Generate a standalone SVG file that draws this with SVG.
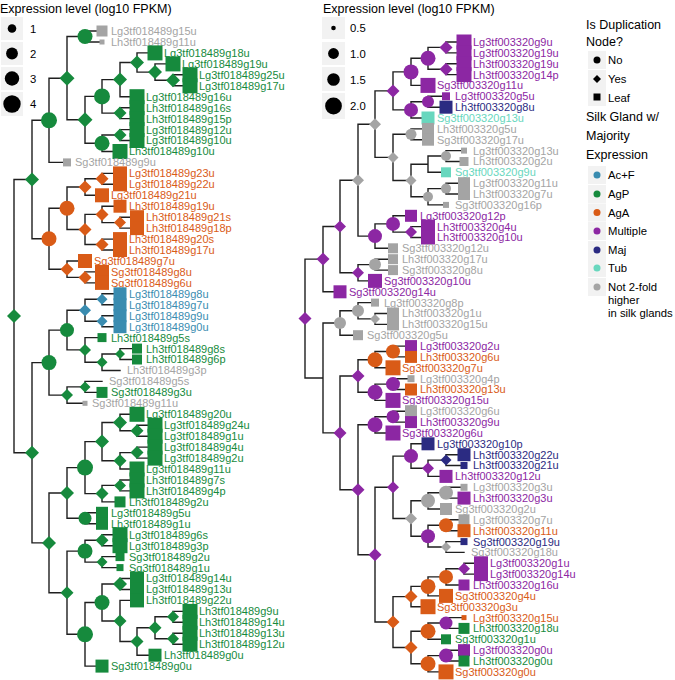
<svg xmlns="http://www.w3.org/2000/svg" xmlns:xlink="http://www.w3.org/1999/xlink" width="675" height="680" viewBox="0 0 675 680">
<style>
.e{fill:none;stroke:#1f1f1f;stroke-width:1.4;stroke-linecap:square}
.t{font-family:"Liberation Sans",Arial,sans-serif;font-size:11px}
.h{font-family:"Liberation Sans",Arial,sans-serif;font-size:12.5px;fill:#000}
.k{font-family:"Liberation Sans",Arial,sans-serif;font-size:11.3px;fill:#000}
.kb{fill:#f2f2f2}
.G{fill:#168a3d}.O{fill:#d95b17}.B{fill:#3a8cb0}.P{fill:#8c27a3}.N{fill:#2b2b82}.T{fill:#68d7be}.Y{fill:#a4a4a4}.K{fill:#000}
</style>
<defs><path id="dm" d="M0,-1L1,0L0,1L-1,0Z"/></defs>
<rect width="675" height="680" fill="#fff"/>
<g id="connectors">
<path class="e" d="M14,179.5V452.7M14,179.5H32M14,452.7H32 M32,120.3V238.7M32,120.3H49M32,238.7H49 M49,78.2V162.4M49,78.2H67M49,162.4H67 M67,36.5V119.8M67,36.5H85M67,119.8H85 M85,31V42M85,31H102M85,42H102 M85,96.4V143.2M85,96.4H102M85,143.2H102 M102,79.6V113.1M102,79.6H120M102,113.1H120 M120,62.5V96.7M120,62.5H137M120,96.7H137 M137,52.9V72.1M137,52.9H155M137,72.1H155 M155,63.9V80.3M155,63.9H173M155,80.3H173 M173,74.8V85.8M173,74.8H190M173,85.8H190 M120,107.7V118.6M120,107.7H137M120,118.6H137 M102,135V151.5M102,135H120M102,151.5H120 M120,129.6V140.5M120,129.6H137M120,140.5H137 M49,208.2V269.2M49,208.2H67M49,269.2H67 M67,187V229.5M67,187H85M67,229.5H85 M85,178.8V195.3M85,178.8H102M85,195.3H102 M102,173.4V184.3M102,173.4H120M102,184.3H120 M85,214.4V244.5M85,214.4H102M85,244.5H102 M102,206.2V222.6M102,206.2H120M102,222.6H120 M120,217.2V228.1M120,217.2H137M120,228.1H137 M102,239.1V250M102,239.1H120M102,250H120 M67,261V277.4M67,261H85M67,277.4H85 M85,271.9V282.9M85,271.9H102M85,282.9H102 M32,362.6V542.9M32,362.6H49M32,542.9H49 M49,330.1V395.1M49,330.1H67M49,395.1H67 M67,310.2V349.9M67,310.2H85M67,349.9H85 M85,299.3V321.2M85,299.3H102M85,321.2H102 M102,293.8V304.8M102,293.8H120M102,304.8H120 M102,315.7V326.7M102,315.7H120M102,326.7H120 M85,337.6V362.2M85,337.6H102M85,362.2H102 M102,354V370.5M102,354H120M102,370.5H120 M120,348.6V359.5M120,348.6H137M120,359.5H137 M67,386.9V403.3M67,386.9H85M67,403.3H85 M85,381.4V392.4M85,381.4H102M85,392.4H102 M49,493V592.7M49,493H67M49,592.7H67 M67,467.6V518.3M67,467.6H85M67,518.3H85 M85,441.6V493.6M85,441.6H102M85,493.6H102 M102,422.5V460.8M102,422.5H120M102,460.8H120 M120,414.3V430.7M120,414.3H137M120,430.7H137 M137,425.2V436.2M137,425.2H155M137,436.2H155 M120,452.6V469M120,452.6H137M120,469H137 M137,447.1V458.1M137,447.1H155M137,458.1H155 M102,485.4V501.9M102,485.4H120M102,501.9H120 M120,480V490.9M120,480H137M120,490.9H137 M85,512.8V523.8M85,512.8H102M85,523.8H102 M67,551.1V634.3M67,551.1H85M67,634.3H85 M85,540.2V562.1M85,540.2H102M85,562.1H102 M102,534.7V545.7M102,534.7H120M102,545.7H120 M102,556.6V567.6M102,556.6H120M102,567.6H120 M85,602.5V666.1M85,602.5H102M85,666.1H102 M102,584V621M102,584H120M102,621H120 M120,578.5V589.5M120,578.5H137M120,589.5H137 M120,600.4V641.5M120,600.4H137M120,641.5H137 M137,627.8V655.2M137,627.8H155M137,655.2H155 M155,616.8V638.7M155,616.8H173M155,638.7H173 M173,611.4V622.3M173,611.4H190M173,622.3H190 M173,633.3V644.2M173,633.3H190M173,644.2H190"/>
<path class="e" d="M305,259.1V378M305,259.1H323M305,378H323 M323,226.5V291.8M323,226.5H340M323,291.8H340 M340,180.2V272.8M340,180.2H358M340,272.8H358 M358,124.2V236.1M358,124.2H375M358,236.1H375 M375,90.9V157.4M375,90.9H393M375,157.4H393 M393,71.9V109.9M393,71.9H411M393,109.9H411 M411,58.3V85.4M411,58.3H428M411,85.4H428 M428,47.4V69.2M428,47.4H446M428,69.2H446 M446,42V52.9M446,42H464M446,52.9H464 M446,63.7V74.6M446,63.7H464M446,74.6H464 M411,101.7V118M411,101.7H428M411,118H428 M428,96.3V107.2M428,96.3H446M428,107.2H446 M393,134.3V180.5M393,134.3H411M393,180.5H411 M411,128.9V139.7M411,128.9H428M411,139.7H428 M411,164.2V196.8M411,164.2H428M411,196.8H428 M428,156V172.3M428,156H446M428,172.3H446 M446,150.6V161.5M446,150.6H464M446,161.5H464 M428,188.6V204.9M428,188.6H446M428,204.9H446 M446,183.2V194M446,183.2H464M446,194H464 M375,223.9V248.3M375,223.9H393M375,248.3H393 M393,215.8V232.1M393,215.8H411M393,232.1H411 M411,226.6V237.5M411,226.6H428M411,237.5H428 M358,264.6V280.9M358,264.6H375M358,280.9H375 M375,259.2V270.1M375,259.2H393M375,270.1H393 M323,323V432.9M323,323H340M323,432.9H340 M340,310.8V335.2M340,310.8H358M340,335.2H358 M358,302.6V318.9M358,302.6H375M358,318.9H375 M375,313.5V324.4M375,313.5H393M375,324.4H393 M340,376V489.8M340,376H358M340,489.8H358 M358,359.7V392.2M358,359.7H375M358,392.2H375 M375,351.5V367.8M375,351.5H393M375,367.8H393 M393,346.1V356.9M393,346.1H411M393,356.9H411 M375,384.1V400.4M375,384.1H393M375,400.4H393 M393,378.7V389.5M393,378.7H411M393,389.5H411 M358,424.8V554.7M358,424.8H375M358,554.7H375 M375,416.7V433M375,416.7H393M375,433H393 M393,411.2V422.1M393,411.2H411M393,422.1H411 M375,487.3V622M375,487.3H393M375,622H393 M393,456.1V518.5M393,456.1H411M393,518.5H411 M411,443.8V468.3M411,443.8H428M411,468.3H428 M428,460.1V476.4M428,460.1H446M428,476.4H446 M446,454.7V465.5M446,454.7H464M446,465.5H464 M411,500.8V536.2M411,500.8H428M411,536.2H428 M428,492.7V509M428,492.7H446M428,509H446 M446,487.3V498.1M446,487.3H464M446,498.1H464 M428,525.3V547M428,525.3H446M428,547H446 M446,519.8V530.7M446,519.8H464M446,530.7H464 M446,541.6V552.4M446,541.6H464M446,552.4H464 M393,596.6V647.5M393,596.6H411M393,647.5H411 M411,586.4V606.7M411,586.4H428M411,606.7H428 M428,576.9V595.9M428,576.9H446M428,595.9H446 M446,568.7V585M446,568.7H464M446,585H464 M464,563.3V574.1M464,563.3H481M464,574.1H481 M411,631.2V663.7M411,631.2H428M411,663.7H428 M428,623V639.3M428,623H446M428,639.3H446 M446,617.6V628.4M446,617.6H464M446,628.4H464 M428,655.6V671.9M428,655.6H446M428,671.9H446 M446,650.2V661M446,650.2H464M446,661H464"/>
</g>
<g id="left-internal-nodes">
<g id="l-root"><use href="#dm" class="G" transform="translate(14 316.1) scale(7)"/></g>
<g id="l-A"><use href="#dm" class="G" transform="translate(32 179.5) scale(7)"/></g>
<g id="l-A1"><circle class="G" cx="49" cy="120.3" r="8"/></g>
<g id="l-A11"><use href="#dm" class="G" transform="translate(67 78.2) scale(7.5)"/></g>
<g id="l-A111"><circle class="G" cx="85" cy="36.5" r="7.5"/></g>
<g id="l-A112"><use href="#dm" class="G" transform="translate(85 119.8) scale(7.5)"/></g>
<g id="l-P"><circle class="G" cx="102" cy="96.4" r="8"/></g>
<g id="l-d1"><use href="#dm" class="G" transform="translate(120 79.6) scale(7)"/></g>
<g id="l-d2"><use href="#dm" class="G" transform="translate(137 62.5) scale(7)"/></g>
<g id="l-d3"><use href="#dm" class="G" transform="translate(155 72.1) scale(7)"/></g>
<g id="l-d4"><use href="#dm" class="G" transform="translate(173 80.3) scale(7)"/></g>
<g id="l-d5"><use href="#dm" class="G" transform="translate(120 113.1) scale(6.5)"/></g>
<g id="l-Q"><circle class="G" cx="102" cy="143.2" r="7.5"/></g>
<g id="l-d6"><use href="#dm" class="G" transform="translate(120 135) scale(6.5)"/></g>
<g id="l-A2"><circle class="O" cx="49" cy="238.7" r="7.5"/></g>
<g id="l-o1"><circle class="O" cx="67" cy="208.2" r="7.5"/></g>
<g id="l-o2"><use href="#dm" class="O" transform="translate(85 187) scale(6.5)"/></g>
<g id="l-o3"><use href="#dm" class="O" transform="translate(102 178.8) scale(6.5)"/></g>
<g id="l-o4"><use href="#dm" class="O" transform="translate(85 229.5) scale(6.5)"/></g>
<g id="l-o5"><use href="#dm" class="O" transform="translate(102 214.4) scale(6.5)"/></g>
<g id="l-o6"><use href="#dm" class="O" transform="translate(120 222.6) scale(6)"/></g>
<g id="l-o7"><use href="#dm" class="O" transform="translate(102 244.5) scale(6.5)"/></g>
<g id="l-o8"><use href="#dm" class="O" transform="translate(67 269.2) scale(6.5)"/></g>
<g id="l-o9"><use href="#dm" class="O" transform="translate(85 277.4) scale(6.5)"/></g>
<g id="l-B"><use href="#dm" class="G" transform="translate(32 452.7) scale(7)"/></g>
<g id="l-C"><circle class="G" cx="49" cy="362.6" r="7.5"/></g>
<g id="l-c1"><circle class="G" cx="67" cy="330.1" r="7"/></g>
<g id="l-b1"><use href="#dm" class="B" transform="translate(85 310.2) scale(6)"/></g>
<g id="l-b2"><use href="#dm" class="B" transform="translate(102 299.3) scale(5.5)"/></g>
<g id="l-b3"><use href="#dm" class="B" transform="translate(102 321.2) scale(5.5)"/></g>
<g id="l-g1"><use href="#dm" class="G" transform="translate(85 349.9) scale(6)"/></g>
<g id="l-g2"><use href="#dm" class="G" transform="translate(102 362.2) scale(5.5)"/></g>
<g id="l-g3"><use href="#dm" class="G" transform="translate(120 354) scale(5)"/></g>
<g id="l-g4"><use href="#dm" class="G" transform="translate(67 395.1) scale(6)"/></g>
<g id="l-g5"><use href="#dm" class="G" transform="translate(85 386.9) scale(5.5)"/></g>
<g id="l-D"><use href="#dm" class="G" transform="translate(49 542.9) scale(7)"/></g>
<g id="l-h1"><use href="#dm" class="G" transform="translate(67 493) scale(7)"/></g>
<g id="l-h2"><circle class="G" cx="85" cy="467.6" r="8"/></g>
<g id="l-h3"><use href="#dm" class="G" transform="translate(102 441.6) scale(7)"/></g>
<g id="l-h4"><use href="#dm" class="G" transform="translate(120 422.5) scale(7)"/></g>
<g id="l-h5"><use href="#dm" class="G" transform="translate(137 430.7) scale(6.5)"/></g>
<g id="l-h6"><use href="#dm" class="G" transform="translate(120 460.8) scale(6.5)"/></g>
<g id="l-h7"><use href="#dm" class="G" transform="translate(137 452.6) scale(6.5)"/></g>
<g id="l-h8"><use href="#dm" class="G" transform="translate(102 493.6) scale(6.5)"/></g>
<g id="l-h9"><use href="#dm" class="G" transform="translate(120 485.4) scale(6)"/></g>
<g id="l-h10"><circle class="G" cx="85" cy="518.3" r="6.5"/></g>
<g id="l-k1"><use href="#dm" class="G" transform="translate(67 592.7) scale(6.5)"/></g>
<g id="l-k2"><circle class="G" cx="85" cy="551.1" r="7.5"/></g>
<g id="l-k3"><use href="#dm" class="G" transform="translate(102 540.2) scale(6.5)"/></g>
<g id="l-k4"><use href="#dm" class="G" transform="translate(102 562.1) scale(5.5)"/></g>
<g id="l-m1"><circle class="G" cx="85" cy="634.3" r="8"/></g>
<g id="l-m2"><circle class="G" cx="102" cy="602.5" r="7.5"/></g>
<g id="l-m3"><use href="#dm" class="G" transform="translate(120 584) scale(7)"/></g>
<g id="l-m4"><use href="#dm" class="G" transform="translate(120 621) scale(6.5)"/></g>
<g id="l-m5"><use href="#dm" class="G" transform="translate(137 641.5) scale(6.5)"/></g>
<g id="l-m6"><use href="#dm" class="G" transform="translate(155 627.8) scale(6.5)"/></g>
<g id="l-m7"><use href="#dm" class="G" transform="translate(173 616.8) scale(6)"/></g>
<g id="l-m8"><use href="#dm" class="G" transform="translate(173 638.7) scale(6)"/></g>
</g>
<g id="right-internal-nodes">
<g id="r-root"><use href="#dm" class="P" transform="translate(305 318.6) scale(6.5)"/></g>
<g id="r-n1"><use href="#dm" class="P" transform="translate(323 259.1) scale(6.5)"/></g>
<g id="r-n2"><use href="#dm" class="P" transform="translate(340 226.5) scale(6)"/></g>
<g id="r-n3"><use href="#dm" class="Y" transform="translate(358 180.2) scale(6)"/></g>
<g id="r-n4"><use href="#dm" class="Y" transform="translate(375 124.2) scale(6)"/></g>
<g id="r-n5"><use href="#dm" class="P" transform="translate(393 90.9) scale(6.5)"/></g>
<g id="r-n6"><circle class="P" cx="411" cy="71.9" r="7.5"/></g>
<g id="r-n7"><circle class="P" cx="428" cy="58.3" r="7.5"/></g>
<g id="r-n8"><use href="#dm" class="P" transform="translate(446 47.4) scale(6.5)"/></g>
<g id="r-n9"><use href="#dm" class="P" transform="translate(446 69.2) scale(6.5)"/></g>
<g id="r-n10"><circle class="P" cx="411" cy="109.9" r="7"/></g>
<g id="r-n11"><circle class="P" cx="428" cy="101.7" r="6"/></g>
<g id="r-n12"><use href="#dm" class="Y" transform="translate(393 157.4) scale(5.5)"/></g>
<g id="r-n13"><circle class="Y" cx="411" cy="134.3" r="5.5"/></g>
<g id="r-n14"><use href="#dm" class="Y" transform="translate(411 180.5) scale(5.5)"/></g>
<g id="r-n15"><circle class="Y" cx="446" cy="156" r="5"/></g>
<g id="r-n16"><circle class="Y" cx="428" cy="196.8" r="5"/></g>
<g id="r-n17"><circle class="Y" cx="446" cy="188.6" r="5"/></g>
<g id="r-n18"><circle class="P" cx="375" cy="236.1" r="7"/></g>
<g id="r-n19"><circle class="P" cx="393" cy="223.9" r="7"/></g>
<g id="r-n20"><use href="#dm" class="P" transform="translate(411 232.1) scale(6)"/></g>
<g id="r-n21"><use href="#dm" class="P" transform="translate(358 272.8) scale(6)"/></g>
<g id="r-n22"><circle class="Y" cx="375" cy="264.6" r="6"/></g>
<g id="r-n23"><circle class="Y" cx="340" cy="323" r="6"/></g>
<g id="r-n24"><circle class="Y" cx="358" cy="310.8" r="6"/></g>
<g id="r-n25"><use href="#dm" class="Y" transform="translate(375 318.9) scale(5)"/></g>
<g id="r-n26"><use href="#dm" class="P" transform="translate(340 432.9) scale(6.5)"/></g>
<g id="r-n27"><use href="#dm" class="P" transform="translate(358 376) scale(6.5)"/></g>
<g id="r-n28"><circle class="O" cx="375" cy="359.7" r="7.5"/></g>
<g id="r-n29"><circle class="O" cx="393" cy="351.5" r="7"/></g>
<g id="r-n30"><circle class="P" cx="375" cy="392.2" r="7.5"/></g>
<g id="r-n31"><circle class="P" cx="393" cy="384.1" r="7"/></g>
<g id="r-n32"><use href="#dm" class="P" transform="translate(358 489.8) scale(6.5)"/></g>
<g id="r-n33"><circle class="P" cx="375" cy="424.8" r="7.5"/></g>
<g id="r-n34"><circle class="P" cx="393" cy="416.7" r="6.5"/></g>
<g id="r-n35"><use href="#dm" class="P" transform="translate(375 554.7) scale(6.5)"/></g>
<g id="r-n36"><use href="#dm" class="P" transform="translate(393 487.3) scale(6)"/></g>
<g id="r-n37"><circle class="P" cx="411" cy="456.1" r="7"/></g>
<g id="r-n38"><use href="#dm" class="P" transform="translate(428 468.3) scale(6)"/></g>
<g id="r-n39"><use href="#dm" class="N" transform="translate(446 460.1) scale(5.5)"/></g>
<g id="r-n40"><use href="#dm" class="Y" transform="translate(411 518.5) scale(6)"/></g>
<g id="r-n41"><circle class="Y" cx="428" cy="500.8" r="7"/></g>
<g id="r-n42"><circle class="Y" cx="446" cy="492.7" r="7"/></g>
<g id="r-n43"><circle class="P" cx="428" cy="536.2" r="7"/></g>
<g id="r-n44"><circle class="O" cx="446" cy="525.3" r="7"/></g>
<g id="r-n45"><use href="#dm" class="Y" transform="translate(446 547) scale(5)"/></g>
<g id="r-n46"><use href="#dm" class="O" transform="translate(393 622) scale(6.5)"/></g>
<g id="r-n47"><use href="#dm" class="O" transform="translate(411 596.6) scale(6.5)"/></g>
<g id="r-n48"><circle class="O" cx="428" cy="586.4" r="7.5"/></g>
<g id="r-n49"><circle class="O" cx="446" cy="576.9" r="7"/></g>
<g id="r-n50"><use href="#dm" class="P" transform="translate(464 568.7) scale(6)"/></g>
<g id="r-n51"><use href="#dm" class="O" transform="translate(411 647.5) scale(6.5)"/></g>
<g id="r-n52"><circle class="O" cx="428" cy="631.2" r="7.5"/></g>
<g id="r-n53"><circle class="P" cx="446" cy="623" r="6.5"/></g>
<g id="r-n54"><circle class="O" cx="428" cy="663.7" r="7.5"/></g>
<g id="r-n55"><circle class="P" cx="446" cy="655.6" r="7"/></g>
</g>
<g id="left-leaves">
<g id="Lg3tf018489g15u"><text class="t Y" x="111" y="34.9">Lg3tf018489g15u</text><rect class="Y" x="96.5" y="25.5" width="11" height="11"/></g>
<g id="Lh3tf018489g11u"><text class="t Y" x="111" y="45.9">Lh3tf018489g11u</text><rect class="Y" x="99.5" y="39.5" width="5" height="5"/></g>
<g id="Lg3tf018489g18u"><text class="t G" x="164" y="56.8">Lg3tf018489g18u</text><rect class="G" x="147.5" y="45.4" width="15" height="15"/></g>
<g id="Lg3tf018489g19u"><text class="t G" x="182" y="67.8">Lg3tf018489g19u</text><rect class="G" x="165.5" y="56.4" width="15" height="15"/></g>
<g id="Lg3tf018489g25u"><text class="t G" x="199" y="78.7">Lg3tf018489g25u</text><rect class="G" x="182.5" y="67.3" width="15" height="15"/></g>
<g id="Lg3tf018489g17u"><text class="t G" x="199" y="89.7">Lg3tf018489g17u</text><rect class="G" x="182.5" y="78.3" width="15" height="15"/></g>
<g id="Lg3tf018489g16u"><text class="t G" x="146" y="100.6">Lg3tf018489g16u</text><rect class="G" x="129.5" y="89.2" width="15" height="15"/></g>
<g id="Lh3tf018489g16s"><text class="t G" x="146" y="111.6">Lh3tf018489g16s</text><rect class="G" x="129.5" y="100.2" width="15" height="15"/></g>
<g id="Lh3tf018489g15p"><text class="t G" x="146" y="122.5">Lh3tf018489g15p</text><rect class="G" x="129.5" y="111.1" width="15" height="15"/></g>
<g id="Lg3tf018489g12u"><text class="t G" x="146" y="133.5">Lg3tf018489g12u</text><rect class="G" x="129.5" y="122.1" width="15" height="15"/></g>
<g id="Lg3tf018489g10u"><text class="t G" x="146" y="144.4">Lg3tf018489g10u</text><rect class="G" x="129.5" y="133" width="15" height="15"/></g>
<g id="Lh3tf018489g10u"><text class="t G" x="129" y="155.4">Lh3tf018489g10u</text><rect class="G" x="112.5" y="144" width="15" height="15"/></g>
<g id="Sg3tf018489g9u"><text class="t Y" x="75" y="166.3">Sg3tf018489g9u</text><rect class="Y" x="63" y="158.4" width="8" height="8"/></g>
<g id="Lg3tf018489g23u"><text class="t O" x="129" y="177.3">Lg3tf018489g23u</text><rect class="O" x="113" y="166.4" width="14" height="14"/></g>
<g id="Lg3tf018489g22u"><text class="t O" x="129" y="188.2">Lg3tf018489g22u</text><rect class="O" x="113" y="177.3" width="14" height="14"/></g>
<g id="Lg3tf018489g21u"><text class="t O" x="111" y="199.2">Lg3tf018489g21u</text><rect class="O" x="95" y="188.3" width="14" height="14"/></g>
<g id="Lh3tf018489g19u"><text class="t O" x="129" y="210.1">Lh3tf018489g19u</text><rect class="O" x="113.5" y="199.7" width="13" height="13"/></g>
<g id="Lh3tf018489g21s"><text class="t O" x="146" y="221.1">Lh3tf018489g21s</text><rect class="O" x="130" y="210.2" width="14" height="14"/></g>
<g id="Lh3tf018489g18p"><text class="t O" x="146" y="232">Lh3tf018489g18p</text><rect class="O" x="130" y="221.1" width="14" height="14"/></g>
<g id="Lh3tf018489g20s"><text class="t O" x="129" y="243">Lh3tf018489g20s</text><rect class="O" x="113" y="232.1" width="14" height="14"/></g>
<g id="Lh3tf018489g17u"><text class="t O" x="129" y="253.9">Lh3tf018489g17u</text><rect class="O" x="113" y="243" width="14" height="14"/></g>
<g id="Sg3tf018489g7u"><text class="t O" x="94" y="264.9">Sg3tf018489g7u</text><rect class="O" x="78" y="254" width="14" height="14"/></g>
<g id="Sg3tf018489g8u"><text class="t O" x="111" y="275.8">Sg3tf018489g8u</text><rect class="O" x="95" y="264.9" width="14" height="14"/></g>
<g id="Sg3tf018489g6u"><text class="t O" x="111" y="286.8">Sg3tf018489g6u</text><rect class="O" x="95" y="275.9" width="14" height="14"/></g>
<g id="Lg3tf018489g8u"><text class="t B" x="129" y="297.7">Lg3tf018489g8u</text><rect class="B" x="113.5" y="287.3" width="13" height="13"/></g>
<g id="Lg3tf018489g7u"><text class="t B" x="129" y="308.7">Lg3tf018489g7u</text><rect class="B" x="113.5" y="298.3" width="13" height="13"/></g>
<g id="Lg3tf018489g9u"><text class="t B" x="129" y="319.6">Lg3tf018489g9u</text><rect class="B" x="113.5" y="309.2" width="13" height="13"/></g>
<g id="Lg3tf018489g0u"><text class="t B" x="129" y="330.6">Lg3tf018489g0u</text><rect class="B" x="113.5" y="320.2" width="13" height="13"/></g>
<g id="Lh3tf018489g5s"><text class="t G" x="111" y="341.5">Lh3tf018489g5s</text><rect class="G" x="97.5" y="333.1" width="9" height="9"/></g>
<g id="Lh3tf018489g8s"><text class="t G" x="146" y="352.5">Lh3tf018489g8s</text><rect class="G" x="132" y="343.6" width="10" height="10"/></g>
<g id="Lh3tf018489g6p"><text class="t G" x="146" y="363.4">Lh3tf018489g6p</text><rect class="G" x="132" y="354.5" width="10" height="10"/></g>
<g id="Lh3tf018489g3p"><text class="t Y" x="127" y="374.4">Lh3tf018489g3p</text></g>
<g id="Sg3tf018489g5s"><text class="t Y" x="109" y="385.3">Sg3tf018489g5s</text></g>
<g id="Sg3tf018489g3u"><text class="t G" x="111" y="396.3">Sg3tf018489g3u</text><rect class="G" x="96.5" y="386.9" width="11" height="11"/></g>
<g id="Sg3tf018489g11u"><text class="t Y" x="92" y="407.2">Sg3tf018489g11u</text><rect class="Y" x="82.5" y="400.8" width="5" height="5"/></g>
<g id="Lg3tf018489g20u"><text class="t G" x="146" y="418.2">Lg3tf018489g20u</text><rect class="G" x="129.5" y="406.8" width="15" height="15"/></g>
<g id="Lg3tf018489g24u"><text class="t G" x="164" y="429.1">Lg3tf018489g24u</text><rect class="G" x="147.5" y="417.7" width="15" height="15"/></g>
<g id="Lg3tf018489g1u"><text class="t G" x="164" y="440.1">Lg3tf018489g1u</text><rect class="G" x="147.5" y="428.7" width="15" height="15"/></g>
<g id="Lg3tf018489g4u"><text class="t G" x="164" y="451">Lg3tf018489g4u</text><rect class="G" x="147.5" y="439.6" width="15" height="15"/></g>
<g id="Lg3tf018489g2u"><text class="t G" x="164" y="462">Lg3tf018489g2u</text><rect class="G" x="147.5" y="450.6" width="15" height="15"/></g>
<g id="Lg3tf018489g11u"><text class="t G" x="146" y="472.9">Lg3tf018489g11u</text><rect class="G" x="129.5" y="461.5" width="15" height="15"/></g>
<g id="Lh3tf018489g7s"><text class="t G" x="146" y="483.9">Lh3tf018489g7s</text><rect class="G" x="129.5" y="472.5" width="15" height="15"/></g>
<g id="Lh3tf018489g4p"><text class="t G" x="146" y="494.8">Lh3tf018489g4p</text><rect class="G" x="129.5" y="483.4" width="15" height="15"/></g>
<g id="Lh3tf018489g2u"><text class="t G" x="129" y="505.8">Lh3tf018489g2u</text><rect class="G" x="114.5" y="496.4" width="11" height="11"/></g>
<g id="Lg3tf018489g5u"><text class="t G" x="111" y="516.7">Lg3tf018489g5u</text><rect class="G" x="96" y="506.8" width="12" height="12"/></g>
<g id="Lh3tf018489g1u"><text class="t G" x="111" y="527.7">Lh3tf018489g1u</text><rect class="G" x="96" y="517.8" width="12" height="12"/></g>
<g id="Lg3tf018489g6s"><text class="t G" x="129" y="538.6">Lg3tf018489g6s</text><rect class="G" x="112.5" y="527.2" width="15" height="15"/></g>
<g id="Lg3tf018489g3p"><text class="t G" x="129" y="549.6">Lg3tf018489g3p</text><rect class="G" x="112.5" y="538.2" width="15" height="15"/></g>
<g id="Sg3tf018489g2u"><text class="t G" x="129" y="560.5">Sg3tf018489g2u</text><rect class="G" x="115.5" y="552.1" width="9" height="9"/></g>
<g id="Sg3tf018489g1u"><text class="t G" x="129" y="571.5">Sg3tf018489g1u</text><rect class="G" x="116.5" y="564.1" width="7" height="7"/></g>
<g id="Lg3tf018489g14u"><text class="t G" x="146" y="582.4">Lg3tf018489g14u</text><rect class="G" x="130" y="571.5" width="14" height="14"/></g>
<g id="Lg3tf018489g13u"><text class="t G" x="146" y="593.4">Lg3tf018489g13u</text><rect class="G" x="130" y="582.5" width="14" height="14"/></g>
<g id="Lh3tf018489g22u"><text class="t G" x="146" y="604.3">Lh3tf018489g22u</text><rect class="G" x="130" y="593.4" width="14" height="14"/></g>
<g id="Lh3tf018489g9u"><text class="t G" x="199" y="615.3">Lh3tf018489g9u</text><rect class="G" x="182.5" y="603.9" width="15" height="15"/></g>
<g id="Lh3tf018489g14u"><text class="t G" x="199" y="626.2">Lh3tf018489g14u</text><rect class="G" x="182.5" y="614.8" width="15" height="15"/></g>
<g id="Lh3tf018489g13u"><text class="t G" x="199" y="637.2">Lh3tf018489g13u</text><rect class="G" x="182.5" y="625.8" width="15" height="15"/></g>
<g id="Lh3tf018489g12u"><text class="t G" x="199" y="648.1">Lh3tf018489g12u</text><rect class="G" x="182.5" y="636.7" width="15" height="15"/></g>
<g id="Lh3tf018489g0u"><text class="t G" x="164" y="659.1">Lh3tf018489g0u</text><rect class="G" x="148.5" y="648.7" width="13" height="13"/></g>
<g id="Sg3tf018489g0u"><text class="t G" x="111" y="670">Sg3tf018489g0u</text><rect class="G" x="95.5" y="659.6" width="13" height="13"/></g>
</g>
<g id="right-leaves">
<g id="Lg3tf003320g9u"><text class="t P" x="473" y="45.9">Lg3tf003320g9u</text><rect class="P" x="456.5" y="34.5" width="15" height="15"/></g>
<g id="Lg3tf003320g19u"><text class="t P" x="473" y="56.8">Lg3tf003320g19u</text><rect class="P" x="456.5" y="45.4" width="15" height="15"/></g>
<g id="Lh3tf003320g19u"><text class="t P" x="473" y="67.6">Lh3tf003320g19u</text><rect class="P" x="456.5" y="56.2" width="15" height="15"/></g>
<g id="Lh3tf003320g14p"><text class="t P" x="473" y="78.5">Lh3tf003320g14p</text><rect class="P" x="456.5" y="67.1" width="15" height="15"/></g>
<g id="Sg3tf003320g11u"><text class="t P" x="437" y="89.3">Sg3tf003320g11u</text><rect class="P" x="420.5" y="77.9" width="15" height="15"/></g>
<g id="Lg3tf003320g5u"><text class="t P" x="455" y="100.2">Lg3tf003320g5u</text><rect class="P" x="442" y="92.3" width="8" height="8"/></g>
<g id="Lh3tf003320g8u"><text class="t N" x="455" y="111.1">Lh3tf003320g8u</text><rect class="N" x="439.5" y="100.7" width="13" height="13"/></g>
<g id="Sg3tf003320g13u"><text class="t T" x="437" y="121.9">Sg3tf003320g13u</text><rect class="T" x="421.5" y="111.5" width="13" height="13"/></g>
<g id="Lh3tf003320g5u"><text class="t Y" x="437" y="132.8">Lh3tf003320g5u</text><rect class="Y" x="422" y="122.9" width="12" height="12"/></g>
<g id="Sg3tf003320g17u"><text class="t Y" x="437" y="143.6">Sg3tf003320g17u</text><rect class="Y" x="422" y="133.7" width="12" height="12"/></g>
<g id="Lg3tf003320g13u"><text class="t Y" x="473" y="154.5">Lg3tf003320g13u</text><rect class="Y" x="461" y="147.6" width="6" height="6"/></g>
<g id="Lh3tf003320g2u"><text class="t Y" x="473" y="165.4">Lh3tf003320g2u</text><rect class="Y" x="459.5" y="157" width="9" height="9"/></g>
<g id="Sg3tf003320g9u"><text class="t T" x="455" y="176.2">Sg3tf003320g9u</text><rect class="T" x="441" y="167.3" width="10" height="10"/></g>
<g id="Lg3tf003320g11u"><text class="t Y" x="473" y="187.1">Lg3tf003320g11u</text><rect class="Y" x="458" y="177.2" width="12" height="12"/></g>
<g id="Lh3tf003320g7u"><text class="t Y" x="473" y="197.9">Lh3tf003320g7u</text><rect class="Y" x="458" y="188" width="12" height="12"/></g>
<g id="Sg3tf003320g16p"><text class="t Y" x="455" y="208.8">Sg3tf003320g16p</text><rect class="Y" x="443" y="201.9" width="6" height="6"/></g>
<g id="Lg3tf003320g12p"><text class="t P" x="420" y="219.7">Lg3tf003320g12p</text><rect class="P" x="405" y="209.8" width="12" height="12"/></g>
<g id="Lh3tf003320g4u"><text class="t P" x="437" y="230.5">Lh3tf003320g4u</text><rect class="P" x="421" y="219.6" width="14" height="14"/></g>
<g id="Lh3tf003320g10u"><text class="t P" x="437" y="241.4">Lh3tf003320g10u</text><rect class="P" x="421" y="230.5" width="14" height="14"/></g>
<g id="Sg3tf003320g12u"><text class="t Y" x="402" y="252.2">Sg3tf003320g12u</text><rect class="Y" x="388" y="243.3" width="10" height="10"/></g>
<g id="Lh3tf003320g17u"><text class="t Y" x="402" y="263.1">Lh3tf003320g17u</text><rect class="Y" x="388" y="254.2" width="10" height="10"/></g>
<g id="Sg3tf003320g8u"><text class="t Y" x="402" y="274">Sg3tf003320g8u</text><rect class="Y" x="388" y="265.1" width="10" height="10"/></g>
<g id="Sg3tf003320g10u"><text class="t P" x="384" y="284.8">Sg3tf003320g10u</text><rect class="P" x="368" y="273.9" width="14" height="14"/></g>
<g id="Sg3tf003320g14u"><text class="t P" x="349" y="295.7">Sg3tf003320g14u</text><rect class="P" x="333.5" y="285.3" width="13" height="13"/></g>
<g id="Lg3tf003320g8p"><text class="t Y" x="384" y="306.5">Lg3tf003320g8p</text><rect class="Y" x="371" y="298.6" width="8" height="8"/></g>
<g id="Lh3tf003320g1u"><text class="t Y" x="402" y="317.4">Lh3tf003320g1u</text><rect class="Y" x="387" y="307.5" width="12" height="12"/></g>
<g id="Lh3tf003320g15u"><text class="t Y" x="402" y="328.3">Lh3tf003320g15u</text><rect class="Y" x="387" y="318.4" width="12" height="12"/></g>
<g id="Sg3tf003320g5u"><text class="t Y" x="367" y="339.1">Sg3tf003320g5u</text><rect class="Y" x="353" y="330.2" width="10" height="10"/></g>
<g id="Lg3tf003320g2u"><text class="t P" x="420" y="350">Lg3tf003320g2u</text><rect class="P" x="405" y="340.1" width="12" height="12"/></g>
<g id="Lh3tf003320g6u"><text class="t O" x="420" y="360.8">Lh3tf003320g6u</text><rect class="O" x="405" y="350.9" width="12" height="12"/></g>
<g id="Sg3tf003320g7u"><text class="t O" x="402" y="371.7">Sg3tf003320g7u</text><rect class="O" x="385.5" y="360.3" width="15" height="15"/></g>
<g id="Lg3tf003320g4p"><text class="t Y" x="420" y="382.6">Lg3tf003320g4p</text><rect class="Y" x="407.5" y="375.2" width="7" height="7"/></g>
<g id="Lh3tf003320g13u"><text class="t O" x="420" y="393.4">Lh3tf003320g13u</text><rect class="O" x="405" y="383.5" width="12" height="12"/></g>
<g id="Sg3tf003320g15u"><text class="t P" x="402" y="404.3">Sg3tf003320g15u</text><rect class="P" x="385.5" y="392.9" width="15" height="15"/></g>
<g id="Lg3tf003320g6u"><text class="t Y" x="420" y="415.1">Lg3tf003320g6u</text><rect class="Y" x="405" y="405.2" width="12" height="12"/></g>
<g id="Lh3tf003320g9u"><text class="t P" x="420" y="426">Lh3tf003320g9u</text><rect class="P" x="405" y="416.1" width="12" height="12"/></g>
<g id="Sg3tf003320g6u"><text class="t P" x="402" y="436.9">Sg3tf003320g6u</text><rect class="P" x="385.5" y="425.5" width="15" height="15"/></g>
<g id="Lg3tf003320g10p"><text class="t N" x="437" y="447.7">Lg3tf003320g10p</text><rect class="N" x="421.5" y="437.3" width="13" height="13"/></g>
<g id="Lh3tf003320g22u"><text class="t N" x="473" y="458.6">Lh3tf003320g22u</text><rect class="N" x="457.5" y="448.2" width="13" height="13"/></g>
<g id="Lh3tf003320g21u"><text class="t N" x="473" y="469.4">Lh3tf003320g21u</text><rect class="N" x="460.5" y="462" width="7" height="7"/></g>
<g id="Lh3tf003320g12u"><text class="t P" x="455" y="480.3">Lh3tf003320g12u</text><rect class="P" x="439.5" y="469.9" width="13" height="13"/></g>
<g id="Lg3tf003320g3u"><text class="t Y" x="473" y="491.2">Lg3tf003320g3u</text><rect class="Y" x="460.5" y="483.8" width="7" height="7"/></g>
<g id="Lh3tf003320g3u"><text class="t P" x="473" y="502">Lh3tf003320g3u</text><rect class="P" x="457.5" y="491.6" width="13" height="13"/></g>
<g id="Sg3tf003320g2u"><text class="t Y" x="455" y="512.9">Sg3tf003320g2u</text><rect class="Y" x="440" y="503" width="12" height="12"/></g>
<g id="Lg3tf003320g7u"><text class="t Y" x="473" y="523.7">Lg3tf003320g7u</text><rect class="Y" x="458.5" y="514.3" width="11" height="11"/></g>
<g id="Lh3tf003320g11u"><text class="t O" x="473" y="534.6">Lh3tf003320g11u</text><rect class="O" x="457.5" y="524.2" width="13" height="13"/></g>
<g id="Sg3tf003320g19u"><text class="t N" x="473" y="545.5">Sg3tf003320g19u</text><rect class="N" x="460.5" y="538.1" width="7" height="7"/></g>
<g id="Sg3tf003320g18u"><text class="t Y" x="471" y="556.3">Sg3tf003320g18u</text></g>
<g id="Lg3tf003320g1u"><text class="t P" x="490" y="567.2">Lg3tf003320g1u</text><rect class="P" x="474" y="556.3" width="14" height="14"/></g>
<g id="Lg3tf003320g14u"><text class="t P" x="490" y="578">Lg3tf003320g14u</text><rect class="P" x="474" y="567.1" width="14" height="14"/></g>
<g id="Lh3tf003320g16u"><text class="t P" x="473" y="588.9">Lh3tf003320g16u</text><rect class="P" x="458.5" y="579.5" width="11" height="11"/></g>
<g id="Sg3tf003320g4u"><text class="t O" x="455" y="599.8">Sg3tf003320g4u</text><rect class="O" x="439" y="588.9" width="14" height="14"/></g>
<g id="Sg3tf003320g3u"><text class="t O" x="437" y="610.6">Sg3tf003320g3u</text><rect class="O" x="420.5" y="599.2" width="15" height="15"/></g>
<g id="Lg3tf003320g15u"><text class="t O" x="473" y="621.5">Lg3tf003320g15u</text><rect class="O" x="461.5" y="615.1" width="5" height="5"/></g>
<g id="Lh3tf003320g18u"><text class="t G" x="473" y="632.3">Lh3tf003320g18u</text><rect class="G" x="458.5" y="622.9" width="11" height="11"/></g>
<g id="Sg3tf003320g1u"><text class="t G" x="455" y="643.2">Sg3tf003320g1u</text><rect class="G" x="441" y="634.3" width="10" height="10"/></g>
<g id="Lg3tf003320g0u"><text class="t P" x="473" y="654.1">Lg3tf003320g0u</text><rect class="P" x="458" y="644.2" width="12" height="12"/></g>
<g id="Lh3tf003320g0u"><text class="t G" x="473" y="664.9">Lh3tf003320g0u</text><rect class="G" x="458.5" y="655.5" width="11" height="11"/></g>
<g id="Sg3tf003320g0u"><text class="t O" x="455" y="675.8">Sg3tf003320g0u</text><rect class="O" x="438.5" y="664.4" width="15" height="15"/></g>
</g>
<g id="legend-size-left">
<text class="h" x="0" y="12.5">Expression level (log10 FPKM)</text>
<rect class="kb" x="1" y="17" width="22" height="23"/><circle class="K" cx="12" cy="28.5" r="4.3"/><text class="k" x="30" y="32.5">1</text>
<rect class="kb" x="1" y="42" width="22" height="23"/><circle class="K" cx="12" cy="53.5" r="5.9"/><text class="k" x="30" y="57.5">2</text>
<rect class="kb" x="1" y="67" width="22" height="23"/><circle class="K" cx="12" cy="78.5" r="7.2"/><text class="k" x="30" y="82.5">3</text>
<rect class="kb" x="1" y="92" width="22" height="24"/><circle class="K" cx="12" cy="104" r="8.7"/><text class="k" x="30" y="108">4</text>
</g>
<g id="legend-size-right">
<text class="h" x="323" y="12.5">Expression level (log10 FPKM)</text>
<rect class="kb" x="322" y="17" width="23" height="22"/><circle class="K" cx="333.5" cy="28" r="2.3"/><text class="k" x="350" y="32">0.5</text>
<rect class="kb" x="322" y="42" width="23" height="23"/><circle class="K" cx="333.5" cy="53.5" r="5.4"/><text class="k" x="350" y="57.5">1.0</text>
<rect class="kb" x="322" y="67" width="23" height="24"/><circle class="K" cx="333.5" cy="79.5" r="6.3"/><text class="k" x="350" y="83.5">1.5</text>
<rect class="kb" x="322" y="93" width="23" height="26"/><circle class="K" cx="333.5" cy="106" r="8.4"/><text class="k" x="350" y="110">2.0</text>
</g>
<g id="legend-duplication">
<text class="h" x="586" y="29">Is Duplication</text>
<text class="h" x="586" y="46">Node?</text>
<rect class="kb" x="588" y="51" width="18" height="18"/><circle class="K" cx="597" cy="60" r="3.5"/><text class="k" x="608" y="64">No</text>
<rect class="kb" x="588" y="70" width="18" height="18"/><use href="#dm" class="K" transform="translate(597 79) scale(4)"/><text class="k" x="608" y="83">Yes</text>
<rect class="kb" x="588" y="88" width="18" height="18"/><rect class="K" x="593.5" y="93.5" width="7" height="7"/><text class="k" x="608" y="101.5">Leaf</text>
</g>
<g id="legend-silk-gland">
<text class="h" x="586" y="121">Silk Gland w/</text>
<text class="h" x="586" y="140">Majority</text>
<text class="h" x="586" y="159">Expression</text>
<rect class="kb" x="588" y="166" width="18" height="18"/><circle class="B" cx="597" cy="175" r="3.5"/><text class="k" x="608" y="179">Ac+F</text>
<rect class="kb" x="588" y="185" width="18" height="18"/><circle class="G" cx="597" cy="194" r="3.5"/><text class="k" x="608" y="198">AgP</text>
<rect class="kb" x="588" y="203.5" width="18" height="18"/><circle class="O" cx="597" cy="212.5" r="3.5"/><text class="k" x="608" y="216.5">AgA</text>
<rect class="kb" x="588" y="222" width="18" height="18"/><circle class="P" cx="597" cy="231" r="3.5"/><text class="k" x="608" y="235">Multiple</text>
<rect class="kb" x="588" y="241" width="18" height="18"/><circle class="N" cx="597" cy="250" r="3.5"/><text class="k" x="608" y="254">Maj</text>
<rect class="kb" x="588" y="259" width="18" height="18"/><circle class="T" cx="597" cy="268" r="3.5"/><text class="k" x="608" y="272">Tub</text>
<rect class="kb" x="588" y="278" width="18" height="18"/><circle class="Y" cx="597" cy="287" r="3.5"/><text class="k" x="608" y="291">Not 2-fold</text>
<text class="k" x="608" y="304">higher</text>
<text class="k" x="608" y="317">in silk glands</text>
</g>
</svg>
